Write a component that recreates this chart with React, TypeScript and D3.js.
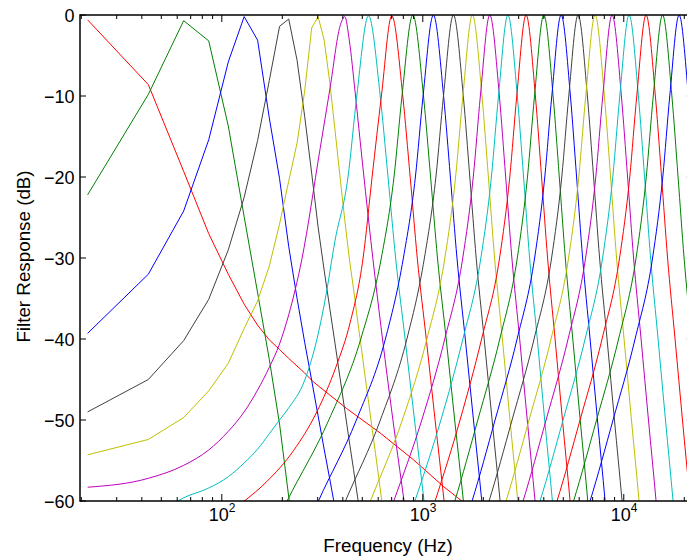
import React from 'react';
import * as d3 from 'd3';

// ---- data ----
const xDomainHz = [19.7, 22050];
const yDomainDb = [-60, 0];
const yTickValues = [0, -10, -20, -30, -40, -50, -60];
const xMajorTickHz = [100, 1000, 10000];
const xMajorTickExp = ['2', '3', '4'];
const xMinorTickHz = [20, 30, 40, 50, 60, 70, 80, 90, 200, 300, 400, 500, 600, 700, 800, 900,
  2000, 3000, 4000, 5000, 6000, 7000, 8000, 9000, 20000];
const xLabel = 'Frequency (Hz)';
const yLabel = 'Filter Response (dB)';
const seriesColors = ['#ff0000', '#008000', '#0000ff', '#404040', '#bfbf00', '#bf00bf', '#00bfbf'];

const filterHz: number[][] = [
  [21.5, 43.1, 64.6, 86.1, 107.7, 129.2, 150.7, 172.3, 193.8, 215.3, 258.4, 285.6, 418.8, 613.3, 898, 1266, 1563, 2000],
  [21.5, 43.1, 64.6, 86.1, 107.7, 129.2, 150.7, 172.3, 193.8, 215.3, 236.9],
  [21.5, 43.1, 64.6, 86.1, 107.7, 129.2, 150.7, 172.3, 193.8, 215.3, 236.9, 258.4, 279.9, 301.5, 323.0, 344.5, 366.1],
  [21.5, 43.1, 64.6, 86.1, 107.7, 129.2, 150.7, 172.3, 193.8, 215.3, 236.9, 258.4, 279.9, 301.5, 323.0, 344.5, 366.1,
    387.6, 409.1, 430.7, 452.2, 473.7, 495.3],
  [21.5, 43.1, 64.6, 86.1, 107.7, 129.2, 150.7, 172.3, 193.8, 215.3, 236.9, 258.4, 279.9, 301.5, 323.0, 344.5, 366.1,
    387.6, 409.1, 430.7, 452.2, 473.7, 495.3, 516.8, 538.3, 559.9, 581.4, 602.9, 624.4, 646.0],
  [21.5, 43.1, 64.6, 86.1, 107.7, 129.2, 150.7, 172.3, 193.8, 215.3, 250, 308.4, 345.7, 387.3, 409.1, 430.7, 460.5,
    487.7, 551.2, 664.4, 807, 885],
  [43.1, 64.6, 86.1, 107.7, 129.2, 150.7, 172.3, 193.8, 215.3, 258.4, 296.9, 326.5, 366.2, 424.6, 469.4, 537, 614,
    671.4, 732.5, 816.6, 909.7, 1014, 1122.7],
  [86.1, 129.5, 167.4, 227.1, 297, 370.4, 434.8, 504.7, 559.5, 622.3, 701, 795.1, 865.5, 938.8, 1040.8, 1151.3, 1276.3, 1405.1],
  [134.6, 211.2, 340.7, 491.4, 621.8, 718.9, 788, 891.7, 1008, 1093.4, 1183.3, 1307.4, 1441.1, 1592.1, 1746.8],
  [202.5, 302.5, 467.3, 651.5, 800.7, 918.7, 1003.3, 1129, 1269, 1371.7, 1479.4, 1627.1, 1787.3, 1965.9, 2146.3],
  [279.2, 412.1, 615.1, 833.4, 1018.7, 1162.1, 1267.6, 1420, 1590.7, 1713.5, 1843.9, 2020.8, 2212.2, 2424.8, 2642.3],
  [380.2, 548.7, 791.2, 1047.9, 1287.9, 1456.1, 1583, 1765, 1970.3, 2119.9, 2276.1, 2488.8, 2715.1, 2969.3, 3228.4],
  [508.6, 717.3, 988.5, 1286.2, 1580.6, 1782.9, 1934.1, 2154, 2404.5, 2584.2, 2774.8, 3033.9, 3309.8, 3619.6, 3930.8],
  [655.1, 913.5, 1230.6, 1582.9, 1945.3, 2194.2, 2380.3, 2651, 2952.4, 3172.9, 3399.4, 3712.5, 4040.7, 4414.2, 4788.2],
  [835.2, 1151.2, 1532.6, 1961.6, 2409.9, 2708.6, 2934.9, 3265, 3632.3, 3899, 4177.2, 4551.1, 4953.7, 5404.6, 5856.4],
  [1047, 1443, 1878, 2416, 2952, 3318, 3596, 4000, 4450, 4777, 5118, 5576, 6069, 6621, 7175],
  [1277, 1759, 2289, 2946, 3600, 4046, 4384, 4877, 5426, 5824, 6240, 6798, 7399, 8073, 8748],
  [1551, 2137, 2781, 3578, 4373, 4915, 5325, 5924, 6590, 7074, 7579, 8257, 8988, 9806, 10626],
  [1884, 2596, 3378, 4347, 5312, 5971, 6469, 7197, 8007, 8595, 9208, 10032, 10920, 11913, 12909],
  [2290, 3155, 4105, 5283, 6455, 7256, 7862, 8746, 9730, 10444, 11190, 12191, 13269, 14477, 15688],
  [2782, 3833, 4988, 6419, 7844, 8816, 9553, 10627, 11823, 12691, 13596, 14813, 16123, 17591, 19062],
  [3380, 4656, 6060, 7797, 9528, 10709, 11604, 12909, 14361, 15416, 16516, 17994, 19586, 21368, 23155],
  [4083, 5626, 7321, 9420, 11511, 12938, 14019, 15596, 17351, 18625, 19954, 21739, 23662],
  [4933, 6796, 8844, 11381, 13907, 15631, 16937, 18842, 20962, 22502],
];

const filterDb: number[][] = [
  [-0.6, -8.6, -19.3, -27.0, -32.0, -35.7, -38.3, -40.1, -41.3, -42.4, -44.2, -45.3, -48.6, -51.6, -54.9, -58.2, -60.0, -62.3],
  [-22.2, -9.8, -0.7, -3.2, -13.7, -24.9, -34.3, -42.5, -50.5, -59.5, -68],
  [-39.3, -32.0, -24.2, -15.4, -5.8, -0.2, -3.1, -12.7, -20.2, -28.6, -35.0, -40.4, -45.1, -49.5, -53.6, -57.3, -60.9],
  [-49.0, -45.0, -40.2, -35.1, -29.0, -22.5, -15.5, -8.1, -1.4, -0.5, -5.6, -12.5, -19.5, -26.2, -31.5, -36.2, -40.6,
    -44.8, -48.8, -52.6, -56.1, -59.5, -62.8],
  [-54.3, -52.4, -49.7, -46.4, -43.0, -38.7, -35.3, -31.0, -25.8, -20.5, -15.8, -9.4, -1.6, -0.2, -3.1, -8.3, -14.3,
    -20.0, -25.3, -30.0, -33.8, -37.7, -41.2, -44.7, -47.9, -51.1, -54.1, -57.0, -59.9, -62.5],
  [-58.3, -57.2, -55.6, -53.7, -51.4, -49.0, -46.3, -43.5, -40.6, -37.0, -30.2, -16.5, -9.0, -1.4, -0.2, -3.1, -9.5,
    -15.5, -27.8, -44.5, -60, -67],
  [-62.5, -59.6, -58.4, -57.0, -55.3, -53.6, -51.7, -50.0, -48.5, -45.1, -40.1, -35.2, -27.8, -20, -10, -0.1, -10,
    -20, -30, -40, -50, -60, -70],
  [-63, -60, -57.6, -53.8, -49, -43.4, -38, -30, -20, -10, -0.1, -10, -20, -30, -40, -50, -60, -70],
  [-70, -60, -50, -40, -30, -20, -10, 0, -10, -20, -30, -40, -50, -60, -70],
  [-70, -60, -50, -40, -30, -20, -10, 0, -10, -20, -30, -40, -50, -60, -70],
  [-70, -60, -50, -40, -30, -20, -10, 0, -10, -20, -30, -40, -50, -60, -70],
  [-70, -60, -50, -40, -30, -20, -10, 0, -10, -20, -30, -40, -50, -60, -70],
  [-70, -60, -50, -40, -30, -20, -10, 0, -10, -20, -30, -40, -50, -60, -70],
  [-70, -60, -50, -40, -30, -20, -10, 0, -10, -20, -30, -40, -50, -60, -70],
  [-70, -60, -50, -40, -30, -20, -10, 0, -10, -20, -30, -40, -50, -60, -70],
  [-70, -60, -50, -40, -30, -20, -10, 0, -10, -20, -30, -40, -50, -60, -70],
  [-70, -60, -50, -40, -30, -20, -10, 0, -10, -20, -30, -40, -50, -60, -70],
  [-70, -60, -50, -40, -30, -20, -10, 0, -10, -20, -30, -40, -50, -60, -70],
  [-70, -60, -50, -40, -30, -20, -10, 0, -10, -20, -30, -40, -50, -60, -70],
  [-70, -60, -50, -40, -30, -20, -10, 0, -10, -20, -30, -40, -50, -60, -70],
  [-70, -60, -50, -40, -30, -20, -10, 0, -10, -20, -30, -40, -50, -60, -70],
  [-70, -60, -50, -40, -30, -20, -10, 0, -10, -20, -30, -40, -50, -60, -70],
  [-70, -60, -50, -40, -30, -20, -10, 0, -10, -20, -30, -40, -50],
  [-70, -60, -50, -40, -30, -20, -10, 0, -10, -20],
];

// ---- layout ----
const W = 687;
const H = 557;
const plotLeft = 80;
const plotRight = 692.8;
const plotTop = 15;
const plotBottom = 501;
const FONT = "'Liberation Sans', Arial, Helvetica, sans-serif";

export default function App() {
  const x = d3.scaleLog().domain(xDomainHz).range([plotLeft, plotRight]);
  const y = d3.scaleLinear().domain(yDomainDb).range([plotBottom, plotTop]);

  const paths = filterHz.map((hz, i) => {
    const pts: [number, number][] = hz.map((f, j) => [f, filterDb[i][j]]);
    const line = d3.line<[number, number]>()
      .x((d) => x(d[0]))
      .y((d) => y(d[1]))
      .curve(i < 5 ? d3.curveLinear : d3.curveMonotoneX);
    return (
      <path key={i} d={line(pts) || ''} fill="none" stroke={seriesColors[i % seriesColors.length]}
        strokeWidth={1} />
    );
  });

  const majLen = 7;
  const minLen = 4;

  return (
    <svg width={W} height={H} style={{ position: 'absolute', left: 0, top: 0, background: '#fff' }}
      fontFamily={FONT}>
      <defs>
        <clipPath id="plotClip">
          <rect x={plotLeft} y={plotTop} width={plotRight - plotLeft} height={plotBottom - plotTop} />
        </clipPath>
      </defs>
      <rect x={0} y={0} width={W} height={H} fill="#fff" />
      <g clipPath="url(#plotClip)">{paths}</g>

      {/* x ticks (bottom and top) */}
      {xMajorTickHz.map((t) => (
        <g key={'M' + t}>
          <line x1={x(t)} x2={x(t)} y1={plotBottom} y2={plotBottom - majLen} stroke="#000" strokeWidth={1} />
          <line x1={x(t)} x2={x(t)} y1={plotTop} y2={plotTop + majLen} stroke="#000" strokeWidth={1} />
        </g>
      ))}
      {xMinorTickHz.map((t) => (
        <g key={'m' + t}>
          <line x1={x(t)} x2={x(t)} y1={plotBottom} y2={plotBottom - minLen} stroke="#000" strokeWidth={1} />
          <line x1={x(t)} x2={x(t)} y1={plotTop} y2={plotTop + minLen} stroke="#000" strokeWidth={1} />
        </g>
      ))}
      {/* y ticks */}
      {yTickValues.map((v) => (
        <g key={'y' + v}>
          <line x1={plotLeft} x2={plotLeft + 6} y1={y(v)} y2={y(v)} stroke="#000" strokeWidth={1} />
          <line x1={plotRight} x2={plotRight - 6} y1={y(v)} y2={y(v)} stroke="#000" strokeWidth={1} />
          <text x={74.5} y={y(v) + 6.5} fontSize={18} textAnchor="end" fill="#000">
            {String(v).replace('-', '\u2212')}
          </text>
        </g>
      ))}
      {/* x tick labels */}
      {xMajorTickHz.map((t, i) => (
        <text key={'xl' + t} x={x(t) - 13} y={520.7} fontSize={18} fill="#000">
          10<tspan fontSize={12} dy={-8.4}>{xMajorTickExp[i]}</tspan>
        </text>
      ))}

      {/* axes box */}
      <rect x={plotLeft} y={plotTop} width={plotRight - plotLeft} height={plotBottom - plotTop}
        fill="none" stroke="#000" strokeWidth={1.5} />

      <text x={388} y={551.7} fontSize={18.8} textAnchor="middle" fill="#000">{xLabel}</text>
      <text transform={`translate(30, 256.5) rotate(-90)`} fontSize={18.8} textAnchor="middle" fill="#000">{yLabel}</text>
    </svg>
  );
}
